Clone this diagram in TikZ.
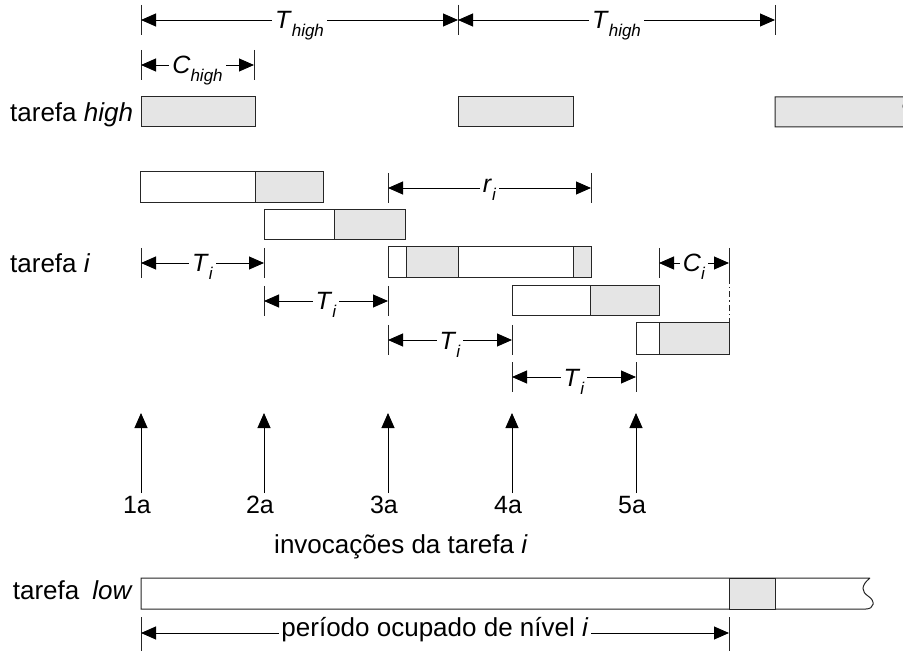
\documentclass[tikz,border=0pt]{standalone}
\usepackage{fontspec}
\setmainfont{Liberation Sans}
\usetikzlibrary{arrows.meta,calc}

% italic symbol with a lowered italic subscript
\newcommand\symsub[2]{\textit{#1}\raisebox{-8pt}{\fontsize{17pt}{17pt}\selectfont\textit{#2}}}

% dimension arrow between two ticks, with a label on a white patch
% #1 name, #2 left x, #3 right x, #4 line y, #5 label, #6 baseline offset
\newcommand\measure[6]{%
  \coordinate (#1-l) at (#2,#4);
  \coordinate (#1-r) at (#3,#4);
  \draw[tickln] ($(#1-l)+(0,-15)$) -- ($(#1-l)+(0,15)$);
  \draw[tickln] ($(#1-r)+(0,-15)$) -- ($(#1-r)+(0,15)$);
  \draw[dimline] (#1-l) -- (#1-r);
  \node[dimlabel] (#1-t) at ($(#1-l)!0.5!(#1-r)+(0,#6)$) {#5};
}

\begin{document}
\begin{tikzpicture}[x=1pt,y=-1pt,
  every node/.style={inner sep=0pt, font=\fontsize{26pt}{30pt}\selectfont},
  edgeln/.style={draw=black!85, line width=1pt},
  busy/.style={edgeln, fill=black!10},
  idle/.style={edgeln, fill=white},
  tickln/.style={draw=black!85, line width=0.8pt},
  dimline/.style={line width=0.9pt, {Triangle[length=15pt,width=13pt]}-{Triangle[length=15pt,width=13pt]}},
  release/.style={line width=0.9pt, -{Triangle[length=15pt,width=13pt]}},
  dimlabel/.style={fill=white, inner xsep=3pt, inner ysep=1pt, anchor=base,
    font=\fontsize{25pt}{28pt}\selectfont},
  tasklabel/.style={anchor=base west},
  numlabel/.style={anchor=base, font=\fontsize{25pt}{28pt}\selectfont},
]
\useasboundingbox (0,0) rectangle (903,655);

% ---- task high ----
\node[tasklabel] (lhigh) at (10,122) {tarefa \textit{high}};
\measure{th1}{141}{458}{20}{\symsub{T}{high}}{9}
\measure{th2}{458}{775}{20}{\symsub{T}{high}}{9}
\measure{ch}{141}{254}{65}{\symsub{C}{high}}{9}
\draw[busy] (141,97) rectangle (255,127);
\draw[busy] (458,97) rectangle (573,127);
\draw[busy] (914,97) -- (775,97) -- (775,127) -- (906,127)
  .. controls (914,127) and (916,119) .. (908,114)
  .. controls (902,110) and (900,104) .. (910,97);

% ---- task i ----
\node[tasklabel] (li) at (10,273) {tarefa \textit{i}};
\measure{ri}{388}{591}{188}{\symsub{r}{i}}{5}

\draw[idle] (140,172) rectangle (255,203);
\draw[busy] (255,172) rectangle (323,203);

\draw[idle] (264,210) rectangle (334,240);
\draw[busy] (334,210) rectangle (405,240);

\draw[idle] (388,247) rectangle (406,278);
\draw[busy] (406,247) rectangle (458,278);
\draw[idle] (458,247) rectangle (573,278);
\draw[busy] (573,247) rectangle (591,278);

\draw[idle] (512,286) rectangle (590,316);
\draw[busy] (590,286) rectangle (659,316);

\draw[idle] (636,323) rectangle (659,354);
\draw[busy] (659,323) rectangle (729,354);

\measure{ti1}{141}{264}{263}{\symsub{T}{i}}{9}
\measure{ti2}{264}{388}{301}{\symsub{T}{i}}{9}
\measure{ti3}{388}{512}{340}{\symsub{T}{i}}{9}
\measure{ti4}{512}{636}{377}{\symsub{T}{i}}{9}
\measure{ci}{659}{729}{263}{\symsub{C}{i}}{9}
\coordinate (cidrop) at (729,323);
\draw[tickln, dash pattern=on 6pt off 3pt on 1.5pt off 3pt] ($(ci-r)+(0,15)$) -- (cidrop);

% ---- releases of task i ----
\foreach \x/\n in {141/1, 264/2, 388/3, 512/4, 636/5} {
  \coordinate (rb\n) at (\x,493);
  \coordinate (rt\n) at (\x,413);
  \draw[release] (rb\n) -- (rt\n);
  \node[numlabel] (rl\n) at (\x-4,513) {\n a};
}
\node[anchor=base, font=\fontsize{26pt}{28pt}\selectfont] (inv) at (401,553)
  {invocações da tarefa \textit{i}};

% ---- task low ----
\node[anchor=base east] (llow) at (133,599) {tarefa\hspace{13pt}\textit{low}};
\draw[edgeln, fill=white] (870,578) -- (141,578) -- (141,609) -- (866,609)
  .. controls (874,609) and (876,601) .. (868,596)
  .. controls (862,592) and (860,586) .. (870,578);
\draw[busy] (729,578) rectangle (775,609);

% ---- level-i busy period ----
\coordinate (bp-l) at (141,633);
\coordinate (bp-r) at (729,633);
\draw[tickln] (141,617) -- (141,651);
\draw[tickln] (729,617) -- (729,651);
\draw[dimline] (bp-l) -- (bp-r);
\node[fill=white, inner xsep=2pt, inner ysep=1pt, anchor=base] (bp-t) at (435,636)
  {período ocupado de nível \textit{i}};
\end{tikzpicture}
\end{document}
